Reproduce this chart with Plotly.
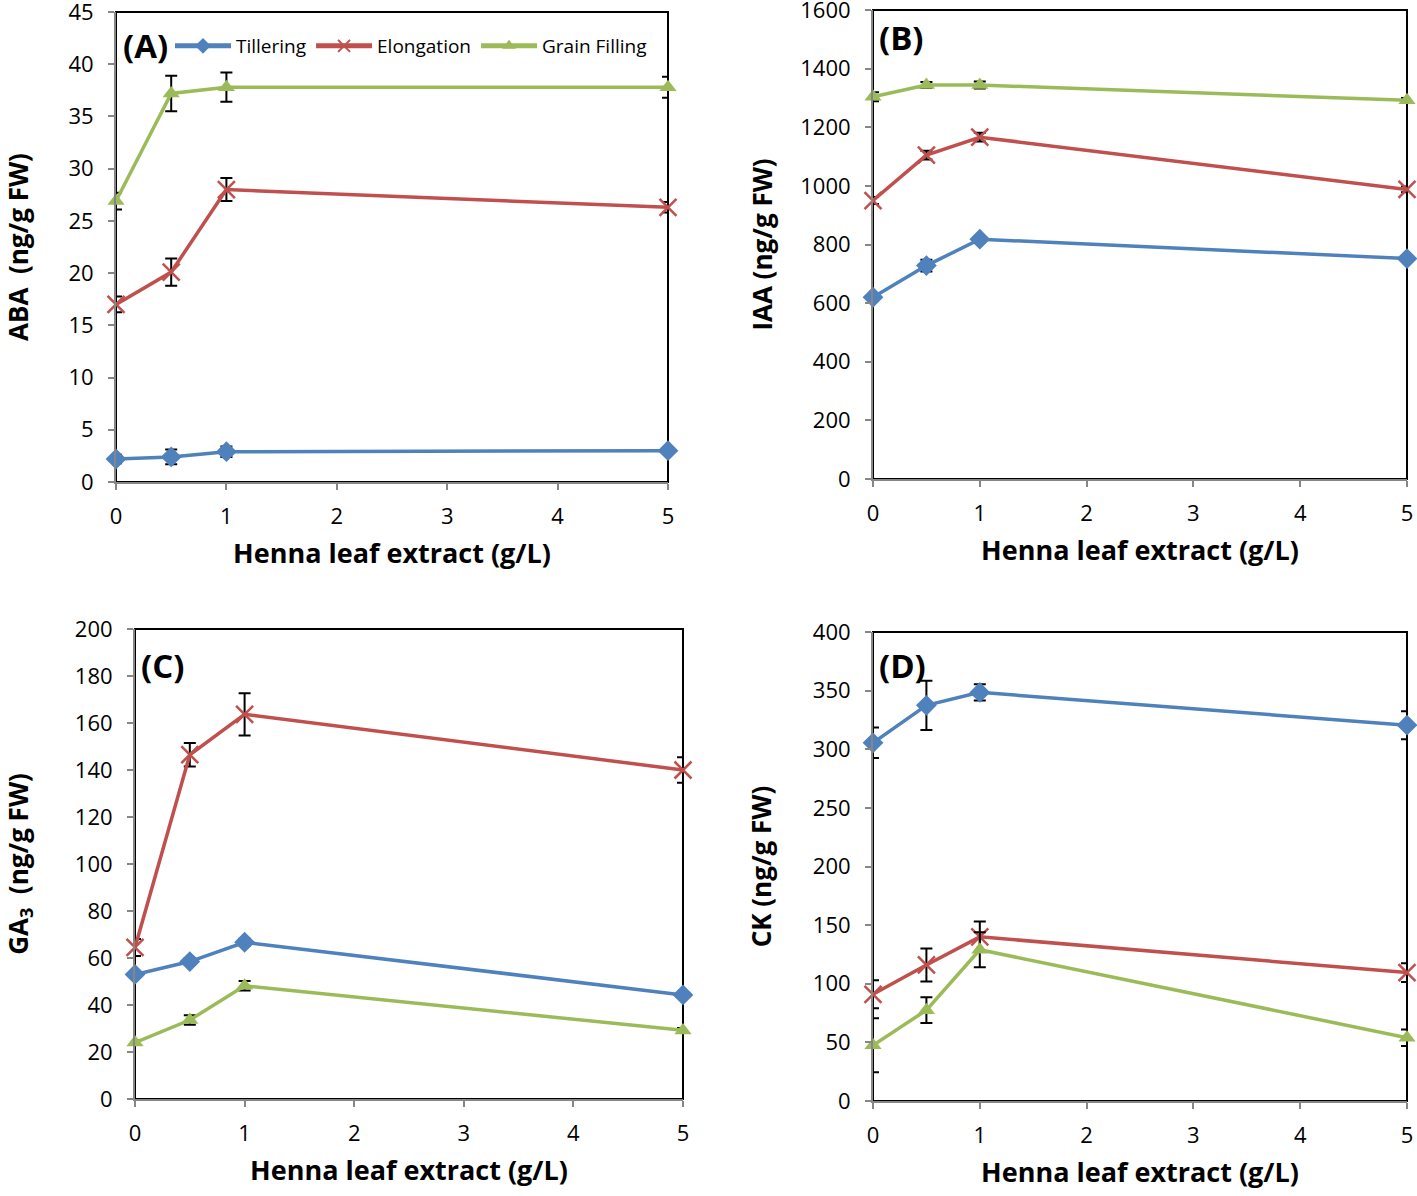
import plotly.graph_objects as go

# ---------------- data ----------------
x_conc = [0, 0.5, 1, 5]
series_names = ["Tillering", "Elongation", "Grain Filling"]

# (A) ABA
aba_till = [2.2, 2.4, 2.9, 3.0]
aba_till_err = [0.4, 0.7, 0.5, 0.3]
aba_elong = [17.0, 20.1, 28.0, 26.3]
aba_elong_err = [0.75, 1.3, 1.1, 0.5]
aba_grain = [26.9, 37.2, 37.8, 37.8]
aba_grain_err = [0.8, 1.7, 1.4, 1.0]

# (B) IAA
iaa_till = [620, 728, 818, 752]
iaa_till_err = [10, 20, 10, 8]
iaa_elong = [950, 1105, 1166, 988]
iaa_elong_err = [12, 15, 15, 10]
iaa_grain = [1304, 1344, 1344, 1292]
iaa_grain_err = [15, 10, 12, 8]

# (C) GA3
ga_till = [53, 58.5, 66.7, 44.3]
ga_till_err = [1.5, 1.5, 1.5, 1.0]
ga_elong = [64.5, 146.5, 163.7, 140.0]
ga_elong_err = [3.6, 5.0, 9.0, 5.4]
ga_grain = [24.0, 33.6, 48.2, 29.2]
ga_grain_err = [1.0, 2.0, 2.0, 1.0]

# (D) CK
ck_till = [305.5, 337.5, 348.5, 320.5]
ck_till_err = [13, 21, 7, 12]
ck_elong = [91, 116, 140, 109.5]
ck_elong_err = [12, 14, 13, 8]
ck_grain = [47.5, 77.5, 129, 54]
ck_grain_err = [23, 11, 15, 7]

x_ticks = [0, 1, 2, 3, 4, 5]
yticks_A = list(range(0, 46, 5))
yticks_B = list(range(0, 1601, 200))
yticks_C = list(range(0, 201, 20))
yticks_D = list(range(0, 401, 50))

colors = ["#4F81BD", "#C0504D", "#9BBB59"]
symbols = ["diamond", "x-thin-open", "triangle-up"]
msizes = [16, 17, 15]

W, H = 1417, 1196


def fx(px):
    return px / W


def fy(py):
    return 1 - py / H


panels = [
    # axis suffix, data, y range, ticks, ytitle, label, box (x0,x1,ytop,ybottom), y-title standoff, label pos
    ("", [(aba_till, aba_till_err), (aba_elong, aba_elong_err), (aba_grain, aba_grain_err)],
     [0, 45], yticks_A, "ABA  (ng/g FW)", "(A)", (116, 668, 12, 482), 38, (121, 46)),
    ("2", [(iaa_till, iaa_till_err), (iaa_elong, iaa_elong_err), (iaa_grain, iaa_grain_err)],
     [0, 1600], yticks_B, "IAA (ng/g FW)", "(B)", (873, 1407, 10, 479), 20, (877, 37)),
    ("3", [(ga_till, ga_till_err), (ga_elong, ga_elong_err), (ga_grain, ga_grain_err)],
     [0, 200], yticks_C, "GA<sub>3</sub>  (ng/g FW)", "(C)", (135, 683, 629, 1099), 44, (139, 665)),
    ("4", [(ck_till, ck_till_err), (ck_elong, ck_elong_err), (ck_grain, ck_grain_err)],
     [0, 400], yticks_D, "CK (ng/g FW)", "(D)", (873, 1407, 632, 1101), 34, (877, 665)),
]

fig = go.Figure()
FONT = "Open Sans"

for pi, (suf, data, yr, yt, ytitle, label, box, standoff, lpos) in enumerate(panels):
    xa = "x" + suf
    ya = "y" + suf
    for si, (vals, errs) in enumerate(data):
        marker = dict(symbol=symbols[si], size=msizes[si], color=colors[si])
        if si == 1:
            marker["line"] = dict(color=colors[si], width=2.5)
        fig.add_trace(go.Scatter(
            x=x_conc, y=vals, xaxis=xa, yaxis=ya,
            mode="lines+markers", name=series_names[si],
            line=dict(color=colors[si], width=3.5),
            marker=marker,
            error_y=dict(type="data", array=errs, visible=True,
                         color="black", thickness=2, width=6),
            cliponaxis=False,
            showlegend=(pi == 0),
        ))
    x0, x1, yt0, yb0 = box
    axis_common = dict(showgrid=False, zeroline=False, showline=True, automargin=False,
                       linecolor="#868686", linewidth=2, ticks="outside",
                       tickcolor="#868686", ticklen=6, tickwidth=1.5,
                       ticklabeloverflow="allow",
                       tickfont=dict(family=FONT, size=22, color="black"))
    fig.update_layout(**{
        "xaxis" + suf: dict(domain=[fx(x0), fx(x1)], range=[0, 5], tickvals=x_ticks,
                            anchor=ya, ticklabelstandoff=8,
                            title=dict(text="Henna leaf extract (g/L)",
                                       font=dict(family=FONT, size=27, color="black", weight="bold"),
                                       standoff=15),
                            **axis_common),
        "yaxis" + suf: dict(domain=[fy(yb0), fy(yt0)], range=yr, tickvals=yt,
                            anchor=xa, ticklabelstandoff=10,
                            title=dict(text=ytitle,
                                       font=dict(family=FONT, size=26, color="black", weight="bold"),
                                       standoff=standoff),
                            **axis_common),
    })
    # black frame (top/right) behind the grey axes
    fig.add_shape(type="rect", xref=xa + " domain", yref=ya + " domain",
                  x0=0, x1=1, y0=0, y1=1, line=dict(color="black", width=2),
                  layer="below")
    fig.add_annotation(text="<b>" + label + "</b>", xref="paper", yref="paper",
                       x=fx(lpos[0]), y=fy(lpos[1]), xanchor="left", yanchor="middle",
                       showarrow=False,
                       font=dict(family=FONT, size=33, color="black"))

fig.update_layout(
    width=W, height=H,
    paper_bgcolor="white", plot_bgcolor="white",
    margin=dict(l=0, r=0, t=0, b=0, autoexpand=False),
    legend=dict(orientation="h", x=fx(170), y=fy(46), xanchor="left", yanchor="middle",
                font=dict(family=FONT, size=19, color="black"),
                bgcolor="rgba(0,0,0,0)", itemwidth=56, tracegroupgap=0,
                itemsizing="constant"),
    font=dict(family=FONT, color="black"),
)

fig.write_html("out.html", config={"displayModeBar": False},
               post_script="document.body.style.margin='0';document.body.style.overflow='hidden';")
